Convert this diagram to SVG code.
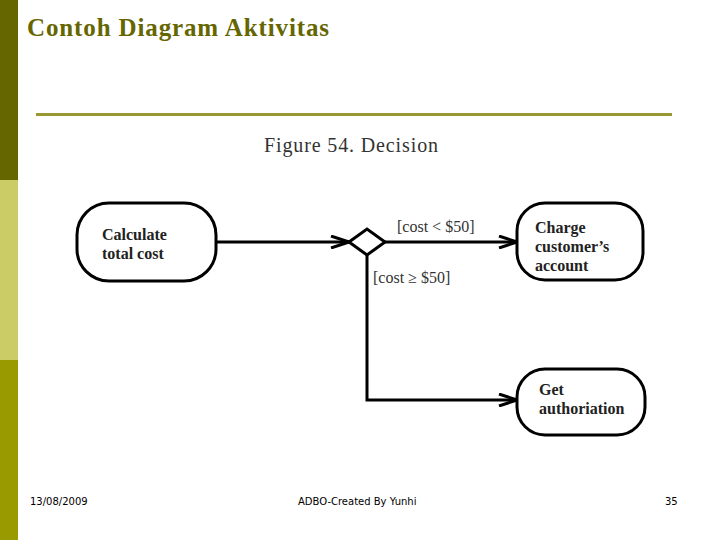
<svg xmlns="http://www.w3.org/2000/svg" width="720" height="540" viewBox="0 0 720 540">
<style>
.n{fill:#fff;stroke:#000;stroke-width:3}
.nt{font-family:"Liberation Serif",serif;font-weight:bold;font-size:16px;fill:#222}
.g{font-family:"Liberation Serif",serif;font-size:16px;fill:#333}
.c{fill:none;stroke:#000;stroke-width:3}
.f{font-family:"DejaVu Sans",sans-serif;font-size:10px;fill:#000}
</style>
<defs><marker id="a" markerWidth="22" markerHeight="14" refX="20" refY="7" orient="auto" markerUnits="userSpaceOnUse"><path d="M2,1 L20,7 L2,13" fill="none" stroke="#000" stroke-width="3"/></marker></defs>
<rect width="720" height="540" fill="#fff"/>
<rect x="0" y="0" width="18" height="180" fill="#666600"/>
<rect x="0" y="180" width="18" height="180" fill="#cccc66"/>
<rect x="0" y="360" width="18" height="180" fill="#999900"/>
<text x="27" y="36" font-family="Liberation Serif,serif" font-weight="bold" font-size="25" fill="#666600" textLength="302">Contoh Diagram Aktivitas</text>
<rect x="36" y="113" width="636" height="3" fill="#999933"/>
<text x="264" y="152" font-family="Liberation Serif,serif" font-size="20" fill="#333" textLength="174">Figure 54.  Decision</text>
<g id="connectors">
<line class="c" x1="216" y1="242" x2="349" y2="242" marker-end="url(#a)"/>
<line class="c" x1="385" y1="242" x2="517" y2="242" marker-end="url(#a)"/>
<polyline class="c" points="367,255 367,400 517,400" marker-end="url(#a)"/>
<polygon points="349,242 367,229 385,242 367,255" fill="#fff" stroke="#000" stroke-width="3"/>
<text class="g" x="397" y="232">[cost &lt; $50]</text>
<text class="g" x="373" y="283">[cost ≥ $50]</text>
</g>
<g id="calc"><rect class="n" x="77" y="203" width="139" height="78" rx="32"/><text class="nt" x="102" y="240">Calculate</text><text class="nt" x="102" y="259">total cost</text></g>
<g id="charge"><rect class="n" x="517" y="203" width="126" height="77" rx="28"/><text class="nt" x="535" y="233">Charge</text><text class="nt" x="535" y="252">customer’s</text><text class="nt" x="535" y="271">account</text></g>
<g id="get"><rect class="n" x="517" y="369" width="128" height="66" rx="28"/><text class="nt" x="539" y="395">Get</text><text class="nt" x="539" y="414">authoriation</text></g>
<text class="f" x="30" y="505">13/08/2009</text>
<text class="f" x="298" y="505">ADBO-Created By Yunhi</text>
<text class="f" x="665" y="505">35</text>
</svg>
